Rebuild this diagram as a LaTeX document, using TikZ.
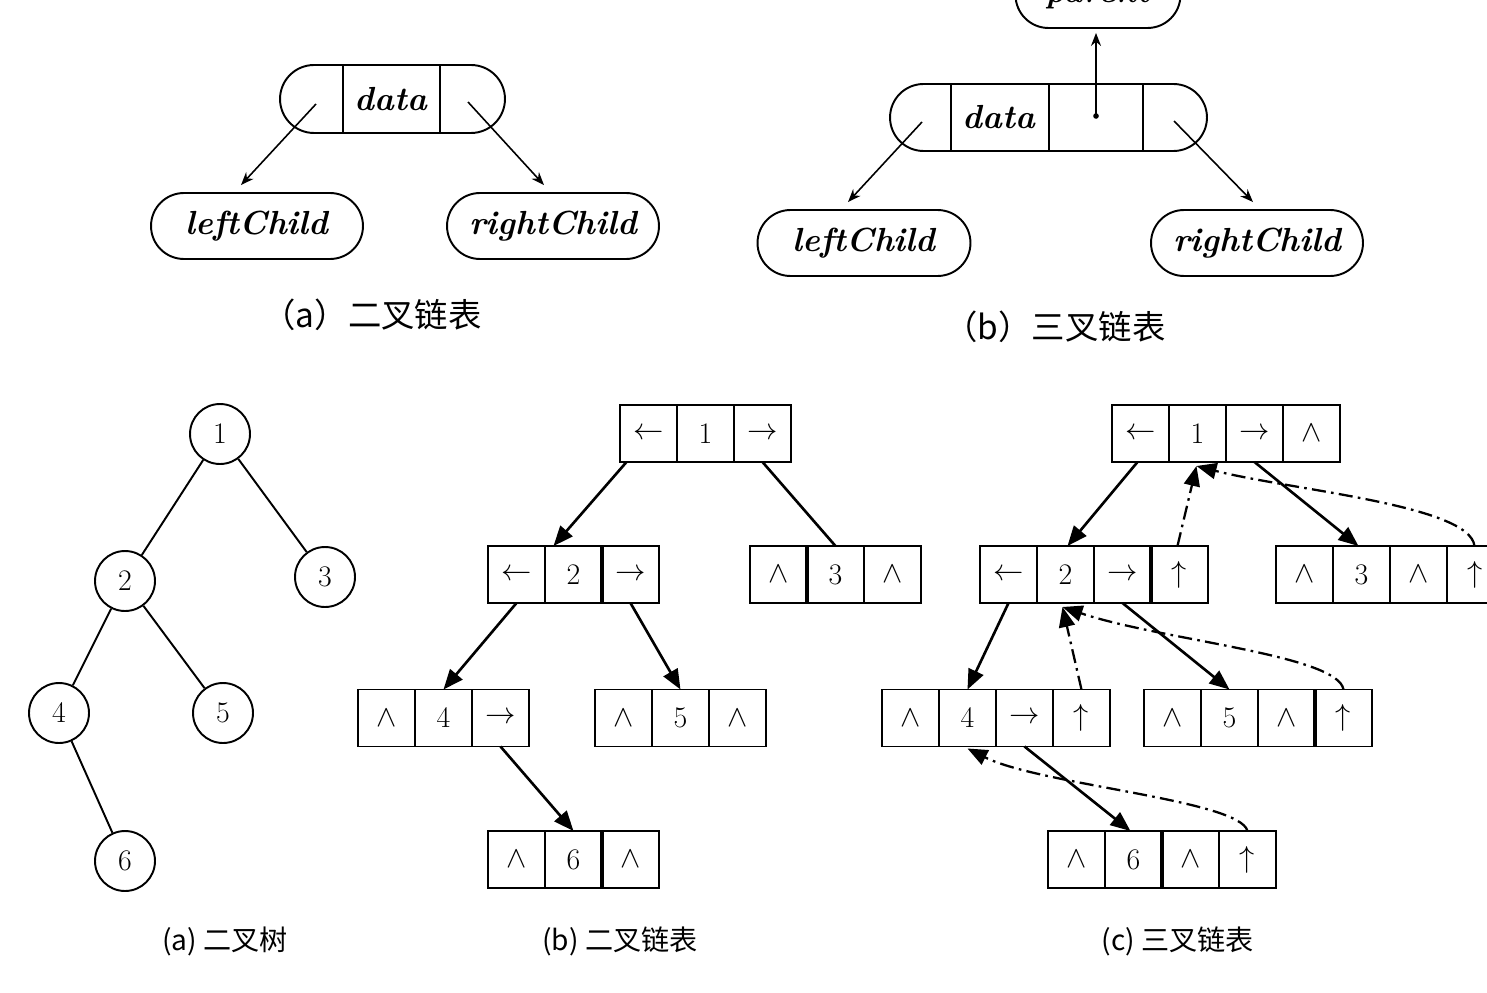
\documentclass[tikz,border=0pt]{standalone}
\usepackage{fontspec}
\newfontfamily\cjk{Noto Sans CJK SC}
\usetikzlibrary{arrows.meta,shapes.misc,calc}
\newcommand\Larw{$\leftarrow$}
\newcommand\Rarw{$\rightarrow$}
\newcommand\Uarw{$\uparrow$}
\newcommand\Nul{$\wedge$}
\newcommand\threecells[5]{%
  \node[cell] (#1a) at (#2) {#3};
  \node[cell,anchor=west] (#1b) at (#1a.east) {#4};
  \node[cell,anchor=west] (#1c) at (#1b.east) {#5};}
\newcommand\fourcells[6]{%
  \threecells{#1}{#2}{#3}{#4}{#5}
  \node[cell,anchor=west] (#1d) at (#1c.east) {#6};}
\begin{document}
\begin{tikzpicture}[x=0.02cm,y=-0.02cm,
  pill/.style={draw,line width=1.1pt,rounded rectangle,minimum height=1.32cm,inner sep=0pt,
    font=\fontsize{19}{22}\selectfont\bfseries\itshape},
  cell/.style={draw,line width=1.1pt,minimum width=1.14cm,minimum height=1.14cm,inner sep=0pt,
    outer sep=0pt,font=\fontsize{17}{20}\selectfont},
  tnode/.style={draw,line width=1.1pt,circle,minimum size=1.2cm,inner sep=0pt,
    font=\fontsize{17}{20}\selectfont},
  thin arrow/.style={line width=0.9pt,-{Stealth[length=0.26cm,width=0.2cm]}},
  big arrow/.style={line width=1.5pt,-{Triangle[length=0.4cm,width=0.32cm]}},
  parent arrow/.style={line width=1.3pt,dash pattern=on 8pt off 3pt on 1.5pt off 3pt,
    -{Triangle[length=0.4cm,width=0.32cm]}},
  topcap/.style={font=\cjk\fontsize{19}{22}\selectfont},
  botcap/.style={font=\cjk\fontsize{16}{19}\selectfont},
  thickdiv/.style={line width=2.2pt}
]
\useasboundingbox (0,0) rectangle (1487,993);
\clip (0,0) rectangle (1487,993);

% ---------- top (a) ----------
\node[pill,minimum width=4.5cm,minimum height=1.36cm] (pa) at (392.5,99) {};
\draw[line width=1.1pt] (343,65) -- (343,133) (440,65) -- (440,133);
\node[font=\fontsize{19}{22}\selectfont\bfseries\itshape] (pad) at (391,99) {data};
\node[pill,minimum width=4.24cm] (lcA) at (257,226) {leftChild};
\node[pill,minimum width=4.24cm] (rcA) at (553,226) {rightChild};
\coordinate (paL) at (316,104);
\coordinate (paR) at (468,102);
\draw[thin arrow] (paL) -- ($(lcA.north)+(-16,-7)$);
\draw[thin arrow] (paR) -- ($(rcA.north)+(-9,-7)$);
\node[topcap] (capA) at (372,315) {（a）二叉链表};

% ---------- top (b) ----------
\node[pill,minimum width=3.3cm] (par) at (1098,-5) {parent};
\node[pill,minimum width=6.34cm,minimum height=1.34cm] (pb) at (1048.5,117.5) {};
\draw[line width=1.1pt] (951,84) -- (951,151) (1049,84) -- (1049,151) (1143,84) -- (1143,151);
\node[font=\fontsize{19}{22}\selectfont\bfseries\itshape] (pbd) at (999,117) {data};
\coordinate (pbP) at (1096,116);
\fill (pbP) circle (1.6pt);
\draw[thin arrow] (pbP) -- ($(par.south)+(-2,4)$);
\node[pill,minimum width=4.26cm] (lcB) at (864,243) {leftChild};
\node[pill,minimum width=4.24cm] (rcB) at (1257,243) {rightChild};
\coordinate (pbL) at (922,122);
\coordinate (pbR) at (1174,121);
\draw[thin arrow] (pbL) -- ($(lcB.north)+(-16,-7)$);
\draw[thin arrow] (pbR) -- ($(rcB.north)+(-4,-7)$);
\node[topcap] (capB) at (1055,327) {（b）三叉链表};

% ---------- bottom (a) tree ----------
\node[tnode] (t1) at (220,434) {1};
\node[tnode] (t2) at (125,581) {2};
\node[tnode] (t3) at (325,577) {3};
\node[tnode] (t4) at (59,713) {4};
\node[tnode] (t5) at (223,713) {5};
\node[tnode] (t6) at (125,861) {6};
\draw[line width=1.1pt] (t1) -- (t2) (t1) -- (t3) (t2) -- (t4) (t2) -- (t5) (t4) -- (t6);
\node[botcap] (capTa) at (225,941) {(a) 二叉树};

% ---------- bottom (b) binary linked list ----------
\threecells{n1}{648.5,433.5}{\Larw}{1}{\Rarw}
\threecells{n2}{516.5,574.5}{\Larw}{2}{\Rarw}
\threecells{n3}{778.5,574.5}{\Nul}{3}{\Nul}
\threecells{n4}{386.5,718}{\Nul}{4}{\Rarw}
\threecells{n5}{623.5,718}{\Nul}{5}{\Nul}
\threecells{n6}{516.5,859.5}{\Nul}{6}{\Nul}
\draw[thickdiv] (n2b.north east) -- (n2b.south east);
\draw[thickdiv] (n3a.north east) -- (n3a.south east);
\draw[thickdiv] (n6b.north east) -- (n6b.south east);
\draw[big arrow] ($(n1a.south)+(-22,0)$) -- ($(n2b.north)+(-20,0)$);
\draw[line width=1.5pt] (n1c.south) -- (n3b.north);
\draw[big arrow] (n2a.south) -- (n4b.north);
\draw[big arrow] (n2c.south) -- (n5b.north);
\draw[big arrow] (n4c.south) -- (n6b.north);
\node[botcap] (capTb) at (620,941) {(b) 二叉链表};

% ---------- bottom (c) trinary linked list ----------
\fourcells{c1}{1140.5,433.5}{\Larw}{1}{\Rarw}{\Nul}
\fourcells{c2}{1008.5,574.5}{\Larw}{2}{\Rarw}{\Uarw}
\fourcells{c3}{1304.5,574.5}{\Nul}{3}{\Nul}{\Uarw}
\fourcells{c4}{910.5,718}{\Nul}{4}{\Rarw}{\Uarw}
\fourcells{c5}{1172.5,718}{\Nul}{5}{\Nul}{\Uarw}
\fourcells{c6}{1076.5,859.5}{\Nul}{6}{\Nul}{\Uarw}
\draw[thickdiv] (c2c.north east) -- (c2c.south east);
\draw[thickdiv] (c5c.north east) -- (c5c.south east);
\draw[thickdiv] (c6b.north east) -- (c6b.south east);
\draw[big arrow] ($(c1a.south)+(-3,0)$) -- ($(c2b.north)+(2,0)$);
\draw[big arrow] (c1c.south) -- ($(c3b.north)+(-3,0)$);
\draw[big arrow] (c2a.south) -- (c4b.north);
\draw[big arrow] (c2c.south) -- (c5b.north);
\draw[big arrow] (c4c.south) -- ($(c6b.north)+(-3,0)$);
% parent pointers
\draw[parent arrow] ($(c2d.north)+(-2,0)$) -- ($(c1b.south)+(-1,4)$);
\draw[parent arrow] ($(c3d.north)+(-1,0)$) .. controls (1470,505) and (1290,490) .. ($(c1b.south)+(-1,4)$);
\draw[parent arrow] (c4d.north) -- ($(c2b.south)+(-3,4)$);
\draw[parent arrow] (c5d.north) .. controls (1338,655) and (1160,640) .. ($(c2b.south)+(-3,4)$);
\draw[parent arrow] (c6d.north) .. controls (1240,800) and (1040,785) .. ($(c4b.south)+(0,2)$);
\node[botcap] (capTc) at (1178,941) {(c) 三叉链表};
\end{tikzpicture}
\end{document}
